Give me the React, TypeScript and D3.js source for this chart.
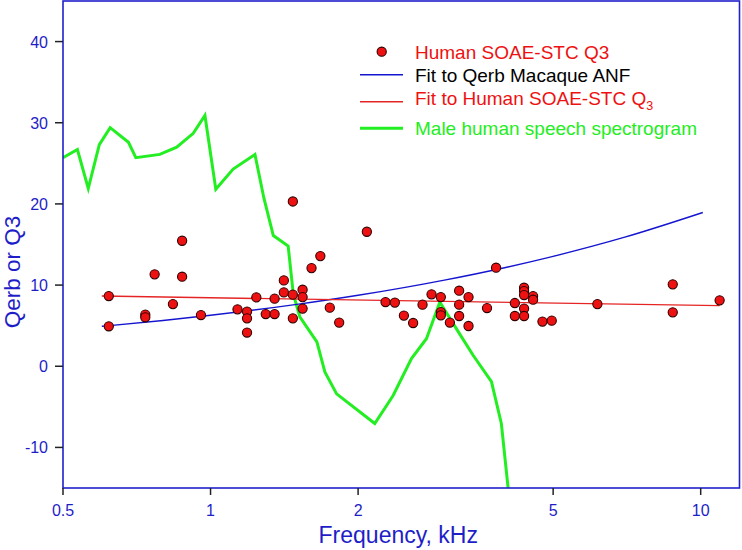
import React from 'react';
import * as d3 from 'd3';

// Human SOAE-STC Q3 scatter (frequency kHz, Q3)
const soaeFreq = [
  1.472, 0.875, 0.769, 0.875, 0.62, 0.62, 0.838, 0.736, 0.736, 0.956,
  1.135, 1.187, 1.187, 1.187, 1.24, 1.296, 1.351, 1.351, 1.411, 1.411,
  1.472, 1.472, 1.541, 1.541, 1.541, 1.607, 1.675, 2.084, 1.751, 1.83,
  2.275, 2.377, 2.48, 2.59, 2.707, 2.824, 2.95, 2.95, 2.95, 3.078,
  3.215, 3.215, 3.215, 3.36, 3.36, 3.665, 3.824, 4.177, 4.177, 4.362,
  4.362, 4.362, 4.362, 4.362, 4.55, 4.55, 4.755, 4.967, 6.155, 8.77,
  8.77, 10.93,
];
const soaeQ = [
  20.3, 15.46, 11.32, 11.03, 8.65, 4.92, 7.66, 6.36, 6.03, 6.31,
  7.01, 6.73, 5.9, 4.15, 8.49, 6.43, 6.43, 8.33, 10.58, 9.1,
  8.82, 5.9, 9.43, 8.52, 7.1, 12.09, 13.57, 16.57, 7.22, 5.38,
  7.91, 7.84, 6.24, 5.33, 7.59, 8.86, 8.52, 6.68, 6.27, 5.38,
  9.31, 7.59, 6.19, 8.52, 4.96, 7.17, 12.14, 7.79, 6.19, 9.68,
  9.26, 8.77, 7.1, 6.19, 8.65, 8.2, 5.5, 5.62, 7.66, 10.09,
  6.64, 8.12,
];

// Fit to Qerb Macaque ANF
const macaqueFitFreq = [0.6, 0.8, 1.0, 1.5, 2, 3, 4, 5, 7, 10.1];
const macaqueFitQ = [4.92, 5.64, 6.28, 7.62, 8.74, 10.61, 12.17, 13.54, 15.9, 18.94];

// Fit to Human SOAE-STC Q3
const humanFitFreq = [0.6, 10.93];
const humanFitQ = [8.65, 7.47];

// Male human speech spectrogram
const speechFreq = [
  0.5, 0.535, 0.563, 0.593, 0.624, 0.68, 0.704, 0.788, 0.853, 0.922,
  0.974, 1.025, 1.112, 1.232, 1.285, 1.343, 1.44, 1.475, 1.521, 1.648,
  1.711, 1.808, 2.163, 2.358, 2.57, 2.757, 2.936, 3.175, 3.433, 3.742,
  3.92, 4.05,
];
const speechQ = [
  25.7, 26.7, 21.9, 27.3, 29.4, 27.6, 25.7, 26.1, 27.0, 28.7,
  30.9, 21.8, 24.3, 26.1, 20.7, 16.1, 14.8, 8.9, 6.1, 3.0,
  -0.7, -3.4, -7.05, -3.6, 0.95, 3.4, 7.9, 4.6, 1.35, -1.9,
  -7.05, -15.2,
];

const xTicks = [0.5, 1, 2, 5, 10];
const xTickLabels = ['0.5', '1', '2', '5', '10'];
const yTicks = [-10, 0, 10, 20, 30, 40];

const W = 742;
const H = 550;
const L = 63;
const R = 739.5;
const T = 1;
const B = 488;

const FONT = "'Liberation Sans', Arial, Helvetica, sans-serif";
const AXIS_BLUE = '#2020cc';
const TEXT_BLUE = '#1e1ec8';
const RED = '#ee1111';
const GREEN = '#22ee22';

export default function App() {
  const x = d3.scaleLog().domain([0.5, 12]).range([L, R]);
  const y = d3.scaleLinear().domain([-15, 45]).range([B, T]);

  const line = d3
    .line<[number, number]>()
    .x((d) => x(d[0]))
    .y((d) => y(d[1]));
  const smooth = d3
    .line<[number, number]>()
    .x((d) => x(d[0]))
    .y((d) => y(d[1]))
    .curve(d3.curveMonotoneX);

  const speech = speechFreq.map((f, i) => [f, speechQ[i]] as [number, number]);
  const macaque = macaqueFitFreq.map((f, i) => [f, macaqueFitQ[i]] as [number, number]);
  const human = humanFitFreq.map((f, i) => [f, humanFitQ[i]] as [number, number]);

  return (
    <svg
      width={W}
      height={H}
      style={{ position: 'absolute', left: 0, top: 0, background: '#fff' }}
      fontFamily={FONT}
    >
      <defs>
        <clipPath id="plot">
          <rect x={L} y={T} width={R - L} height={B - T} />
        </clipPath>
      </defs>
      <rect x={0} y={0} width={W} height={H} fill="#fff" />

      <g clipPath="url(#plot)">
        <path d={line(speech) || ''} fill="none" stroke={GREEN} strokeWidth={3} strokeLinejoin="miter" />
        <path d={smooth(macaque) || ''} fill="none" stroke="#1515d0" strokeWidth={1.4} />
        <path d={line(human) || ''} fill="none" stroke="#e52525" strokeWidth={1.4} />
        {soaeFreq.map((f, i) => (
          <circle key={i} cx={x(f)} cy={y(soaeQ[i])} r={4.6} fill={RED} stroke="#300000" strokeWidth={1.1} />
        ))}
      </g>

      {/* frame */}
      <rect x={L} y={T} width={R - L} height={B - T} fill="none" stroke={AXIS_BLUE} strokeWidth={1.6} />

      {/* x ticks */}
      {xTicks.map((t, i) => (
        <g key={'xt' + i}>
          <line x1={x(t)} x2={x(t)} y1={B} y2={B + 7} stroke="#222" strokeWidth={1.5} />
          <text x={x(t)} y={516} textAnchor="middle" fontSize={16} fill={TEXT_BLUE}>
            {xTickLabels[i]}
          </text>
        </g>
      ))}

      {/* y ticks */}
      {yTicks.map((t, i) => (
        <g key={'yt' + i}>
          <line x1={L - 8} x2={L} y1={y(t)} y2={y(t)} stroke="#222" strokeWidth={1.5} />
          <text x={48} y={y(t) + 6} textAnchor="end" fontSize={16} fill={TEXT_BLUE}>
            {String(t)}
          </text>
        </g>
      ))}

      {/* axis titles */}
      <text x={(L + R) / 2 - 3} y={543} textAnchor="middle" fontSize={23} fill={TEXT_BLUE}>
        Frequency, kHz
      </text>
      <text
        transform={`translate(20,272) rotate(-90)`}
        textAnchor="middle"
        fontSize={22.5}
        fill={TEXT_BLUE}
      >
        Qerb or Q3
      </text>

      {/* legend */}
      <g fontSize={19}>
        <circle cx={381.7} cy={51.7} r={4.6} fill={RED} stroke="#300000" strokeWidth={1.1} />
        <text x={415} y={58.5} fill={RED}>Human SOAE-STC Q3</text>

        <line x1={360} x2={403} y1={74.7} y2={74.7} stroke="#1515d0" strokeWidth={1.4} />
        <text x={415} y={81.5} fill="#000">Fit to Qerb Macaque ANF</text>

        <line x1={360} x2={403} y1={101.7} y2={101.7} stroke="#e52525" strokeWidth={1.4} />
        <text x={415} y={105} fill={RED}>
          Fit to Human SOAE-STC Q
          <tspan fontSize={12.5} dy={5}>3</tspan>
        </text>

        <line x1={360} x2={403} y1={128.3} y2={128.3} stroke={GREEN} strokeWidth={3} />
        <text x={415} y={135} fill={GREEN}>Male human speech spectrogram</text>
      </g>
    </svg>
  );
}
